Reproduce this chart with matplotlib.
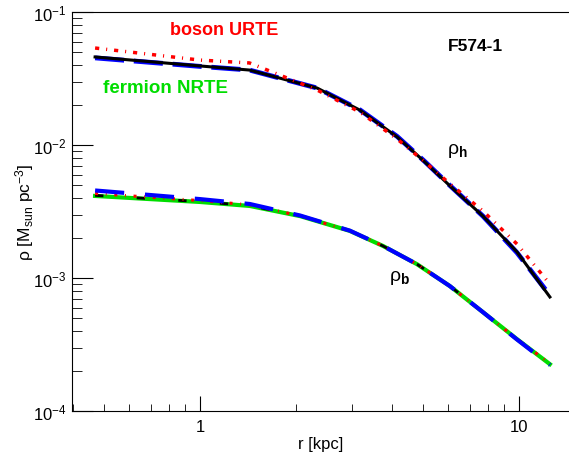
import numpy as np
import matplotlib
matplotlib.use("Agg")
import matplotlib.pyplot as plt
from matplotlib.ticker import LogLocator, NullFormatter, FixedLocator

plt.rcParams['font.family'] = ['Liberation Sans', 'DejaVu Sans']
plt.rcParams['mathtext.fontset'] = 'custom'
plt.rcParams['mathtext.rm'] = 'Liberation Sans'
plt.rcParams['mathtext.it'] = 'Liberation Sans:italic'
plt.rcParams['mathtext.bf'] = 'Liberation Sans:bold'

# radius [kpc]
r = [0.469, 1.0, 1.43, 2.33, 3.17, 4.15, 5.07, 6.08, 7.71, 9.86, 12.5]
# halo density, black solid
halo_black = [0.0459, 0.0393, 0.0366, 0.0268, 0.0183, 0.0115, 0.00745, 0.00492, 0.00292, 0.00157, 0.00072]
# halo, boson URTE (red dash-dot)
halo_red = [0.0536, 0.0435, 0.0414, 0.0259, 0.0177, 0.0111, 0.00745, 0.0051, 0.00319, 0.0018, 0.0009]
# halo, fermion (blue dashed)
r_blue_h = [0.469, 1.0, 1.43, 2.33, 3.17, 4.15, 5.07, 6.08, 7.71, 9.86, 12.1]
halo_blue = [0.0452, 0.0390, 0.0366, 0.0268, 0.0184, 0.0116, 0.00750, 0.00495, 0.00292, 0.00155, 0.00082]

# baryon
r_b = [0.469, 1.0, 1.434, 2.06, 2.95, 3.75, 4.79, 6.07, 7.70, 9.84, 12.5]
bar_green = [0.00414, 0.00373, 0.00348, 0.00292, 0.00226, 0.00174, 0.00127, 0.00087, 0.000555, 0.000348, 0.000225]
bar_black = [0.00418, 0.00375, 0.00350, 0.00293, 0.00226, 0.00174, 0.00127, 0.00087, 0.000555, 0.000348, 0.000230]
bar_red = [0.00432, 0.00382, 0.00355, 0.00293, 0.00226, 0.00174, 0.00127, 0.00087, 0.000555, 0.000348, 0.000228]
bar_blue = [0.00455, 0.00392, 0.00360, 0.00295, 0.00227, 0.00174, 0.00127, 0.00087, 0.000555, 0.000346, 0.000222]

fig = plt.figure(figsize=(5.69, 4.56), dpi=100)
ax = fig.add_axes([72/569, 44/456, 497/569, 399/456])

# halo
ax.plot(r_blue_h, halo_blue, color='blue', lw=3.5, ls=(0, (6, 2)))
ax.plot(r, halo_black, color='black', lw=2.2)
ax.plot(r, halo_red, color='red', lw=2.5, ls=(0, (1.2, 2, 0.3, 2)))
# baryon
ax.plot(r_b, bar_green, color='#00dd00', lw=3)
ax.plot(r_b, bar_black, color='black', lw=2, ls=(0, (3, 12)))
ax.plot(r_b, bar_red, color='red', lw=2.2, ls=(0, (1, 2.5, 0.3, 2.5)))
ax.plot(r_b, bar_blue, color='blue', lw=3, ls=(0, (7, 5)))

ax.set_xscale('log')
ax.set_yscale('log')
ax.set_xlim(0.397, 14.35)
ax.set_ylim(1e-4, 1e-1)

ax.spines['right'].set_visible(False)
ax.xaxis.set_major_locator(FixedLocator([1, 10]))
ax.set_xticklabels(['1', '10'])
ax.xaxis.set_minor_locator(LogLocator(base=10, subs=np.arange(2, 10)))
ax.xaxis.set_minor_formatter(NullFormatter())
ax.yaxis.set_major_locator(FixedLocator([1e-4, 1e-3, 1e-2, 1e-1]))
ax.set_yticklabels([r'$\mathregular{10^{-4}}$', r'$\mathregular{10^{-3}}$',
                    r'$\mathregular{10^{-2}}$', r'$\mathregular{10^{-1}}$'])
ax.yaxis.set_minor_locator(LogLocator(base=10, subs=np.arange(2, 10)))
ax.yaxis.set_minor_formatter(NullFormatter())
ax.tick_params(which='both', direction='in', top=False, right=False, labelsize=12)
ax.tick_params(axis='x', which='major', length=11, pad=6)
ax.tick_params(axis='x', which='minor', length=5)
ax.tick_params(axis='y', which='major', length=15, pad=4)
ax.tick_params(axis='y', which='minor', length=7)

ax.set_xlabel('r [kpc]', fontsize=12, labelpad=1)
ax.set_ylabel(r'ρ [M$_{\mathregular{sun}}$ pc$^{\mathregular{-3}}$]', fontsize=12.5, labelpad=-2)

ax.text(0.197, 0.957, 'boson URTE', color='red', fontsize=13, fontweight='bold',
        transform=ax.transAxes, va='center')
ax.text(0.063, 0.81, 'fermion NRTE', color='#00dd00', fontsize=13.5, fontweight='bold',
        transform=ax.transAxes, va='center')
ax.text(0.757, 0.915, 'F574-1', color='black', fontsize=12.5, fontweight='bold',
        transform=ax.transAxes, va='center')
ax.text(0.755, 0.655, r'ρ$_{\mathbf{h}}$', fontsize=14, transform=ax.transAxes, va='center')
ax.text(0.638, 0.335, r'ρ$_{\mathbf{b}}$', fontsize=14, transform=ax.transAxes, va='center')

fig.savefig('out.png', dpi=100)
